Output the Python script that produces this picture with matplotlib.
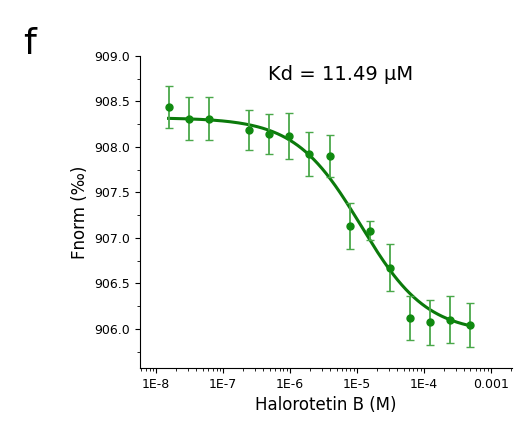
import numpy as np
import matplotlib
matplotlib.use("Agg")
import matplotlib.pyplot as plt
from matplotlib.ticker import LogLocator, MultipleLocator, FixedLocator

conc = [1.53e-8, 3.05e-8, 6.1e-8, 2.44e-7, 4.9e-7, 9.8e-7, 1.95e-6, 3.9e-6,
        7.8e-6, 1.5625e-5, 3.125e-5, 6.25e-5, 1.25e-4, 2.5e-4, 5e-4]
fnorm = [908.44, 908.31, 908.31, 908.19, 908.14, 908.12, 907.92, 907.90,
         907.13, 907.08, 906.67, 906.12, 906.07, 906.10, 906.04]
err = [0.23, 0.24, 0.24, 0.22, 0.22, 0.25, 0.24, 0.23,
       0.25, 0.10, 0.26, 0.24, 0.25, 0.26, 0.24]
top, bottom, kd, hill = 908.32, 905.95, 11.49e-6, 0.88

fig = plt.figure(figsize=(5.23, 4.47), dpi=100)
ax = fig.add_axes([0.268, 0.177, 0.711, 0.698])
xs = np.logspace(np.log10(conc[0]), np.log10(conc[-1]), 300)
ax.plot(xs, bottom + (top - bottom) / (1 + (xs / kd) ** hill), color="#0b7a0b", lw=2.2, zorder=2)
ax.errorbar(conc, fnorm, yerr=err, fmt="o", color="#108a10", ms=5,
            ecolor="#4aa84a", elinewidth=1.3, capsize=3, zorder=3)
ax.set_xscale("log")
ax.set_xlim(10**-8.24, 10**-2.68)
ax.set_ylim(905.57, 909.0)
ax.yaxis.set_major_locator(MultipleLocator(0.5))
ax.yaxis.set_minor_locator(MultipleLocator(0.25))
ax.xaxis.set_major_locator(FixedLocator([1e-8, 1e-7, 1e-6, 1e-5, 1e-4, 1e-3]))
ax.set_xticklabels(["1E-8", "1E-7", "1E-6", "1E-5", "1E-4", "0.001"])
ax.xaxis.set_minor_locator(LogLocator(base=10, subs=np.arange(2, 10)))
ax.set_yticklabels([f"{v:.1f}" for v in ax.get_yticks()])
for s in ["top", "right"]:
    ax.spines[s].set_visible(False)
ax.tick_params(labelsize=9)
ax.set_ylabel("Fnorm (‰)", fontsize=12)
ax.set_xlabel("Halorotetin B (M)", fontsize=12)
ax.text(0.54, 0.94, "Kd = 11.49 µM", transform=ax.transAxes, ha="center", va="center", fontsize=14)
fig.text(0.045, 0.88, "f", fontsize=26)
fig.savefig("out.png", dpi=100)
